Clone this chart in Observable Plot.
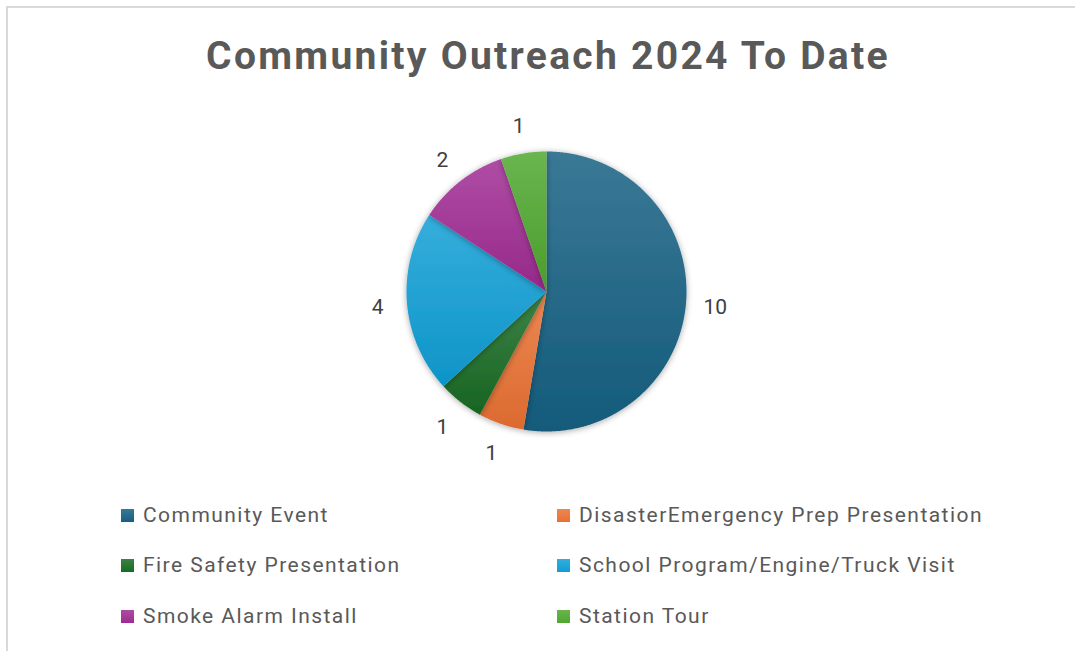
<!DOCTYPE html>
<html>
<head>
<meta charset="utf-8">
<script src="https://cdn.jsdelivr.net/npm/d3@7"></script>
<script src="https://cdn.jsdelivr.net/npm/@observablehq/plot@0.6"></script>
<style>
  html, body { margin: 0; padding: 0; background: #fff; }
  body { width: 1075px; height: 651px; overflow: hidden; position: relative; font-family: Roboto, "Liberation Sans", sans-serif; }
  #frame { position: absolute; left: 6px; top: 6px; width: 1200px; height: 800px; border-top: 2px solid #d9d9d9; border-left: 2px solid #d9d9d9; }
  #title { position: absolute; left: 0; width: 1096px; top: 33px; text-align: center; font-size: 39px; letter-spacing: 2.3px; font-weight: bold; color: #595959; white-space: nowrap; }
  #chart { position: absolute; left: 0; top: 0; }
  .leg { position: absolute; display: flex; align-items: center; font-size: 21px; letter-spacing: 1.45px; color: #595959; white-space: nowrap; }
  .sw { width: 13px; height: 13px; margin-right: 9px; }
</style>
</head>
<body>
<div id="frame"></div>
<div id="chart"></div>
<div id="title">Community Outreach 2024 To Date</div>
<div id="legend"></div>
<script>
const categories = ["Community Event", "DisasterEmergency Prep Presentation", "Fire Safety Presentation", "School Program/Engine/Truck Visit", "Smoke Alarm Install", "Station Tour"];
const values = [10, 1, 1, 4, 2, 1];
const colors = ["#156082", "#E97132", "#196B24", "#0F9ED5", "#A02B93", "#4EA72E"];

const W = 1075, H = 651;
const cx = 546, cy = 291, R = 140;

const pie = d3.pie().sort(null).value(d => d.value);
const arcs = pie(categories.map((c, i) => ({category: c, value: values[i], i})));

// slice outlines in unit coordinates (angle measured clockwise from top)
const slicePts = [];
arcs.forEach(a => {
  const n = Math.max(2, Math.ceil((a.endAngle - a.startAngle) / 0.01));
  slicePts.push({category: a.data.category, i: a.data.i, x: 0, y: 0});
  for (let k = 0; k <= n; k++) {
    const t = a.startAngle + (a.endAngle - a.startAngle) * k / n;
    slicePts.push({category: a.data.category, i: a.data.i, x: Math.sin(t), y: Math.cos(t)});
  }
  slicePts.push({category: a.data.category, i: a.data.i, x: 0, y: 0});
});

const labelR = 1.21;
const labels = arcs.map(a => {
  const m = (a.startAngle + a.endAngle) / 2;
  return {label: String(a.data.value), x: labelR * Math.sin(m), y: labelR * Math.cos(m)};
});

function defs() {
  const d = d3.create("svg:defs");
  colors.forEach((c, i) => {
    const g = d.append("linearGradient").attr("id", "g" + i).attr("x1", 0).attr("y1", 0).attr("x2", 0).attr("y2", 1);
    g.append("stop").attr("offset", "0%").attr("stop-color", d3.interpolateRgb(c, "#ffffff")(0.16));
    g.append("stop").attr("offset", "100%").attr("stop-color", d3.color(c).darker(0.18).formatHex());
  });
  const f = d.append("filter").attr("id", "shadow").attr("x", "-20%").attr("y", "-20%").attr("width", "140%").attr("height", "140%");
  f.append("feDropShadow").attr("dx", 0).attr("dy", 1).attr("stdDeviation", 3).attr("flood-color", "#000").attr("flood-opacity", 0.35);
  return d.node();
}

const sliceMarks = arcs.map((a, i) =>
  Plot.line(slicePts.filter(p => p.i === i), {x: "x", y: "y", fill: `url(#g${i})`, stroke: "none", curve: "linear"})
);

const plot = Plot.plot({
  width: W, height: H,
  margin: 0,
  x: {domain: [-1, 1], range: [cx - R, cx + R], axis: null},
  y: {domain: [-1, 1], range: [cy + R, cy - R], axis: null},
  style: {background: "transparent", overflow: "visible"},
  marks: [
    defs,
    ...sliceMarks,
    Plot.text(labels, {x: "x", y: "y", dy: 2, text: "label", fontSize: 21, fill: "#404040", fontFamily: "Roboto, sans-serif", style: "letter-spacing:1px"})
  ]
});
document.getElementById("chart").appendChild(plot);
d3.select(plot).selectAll("g[aria-label='line']").attr("filter", "url(#shadow)");

// legend
const legPos = [[121, 515], [557, 515], [121, 565], [557, 565], [121, 616], [557, 616]];
const legend = d3.select("#legend");
categories.forEach((c, i) => {
  const it = legend.append("div").attr("class", "leg")
    .style("left", legPos[i][0] + "px").style("top", (legPos[i][1] - 12) + "px");
  it.append("div").attr("class", "sw").style("background", `linear-gradient(${d3.interpolateRgb(colors[i], "#fff")(0.15)}, ${colors[i]})`);
  it.append("span").text(c);
});
</script>
</body>
</html>
